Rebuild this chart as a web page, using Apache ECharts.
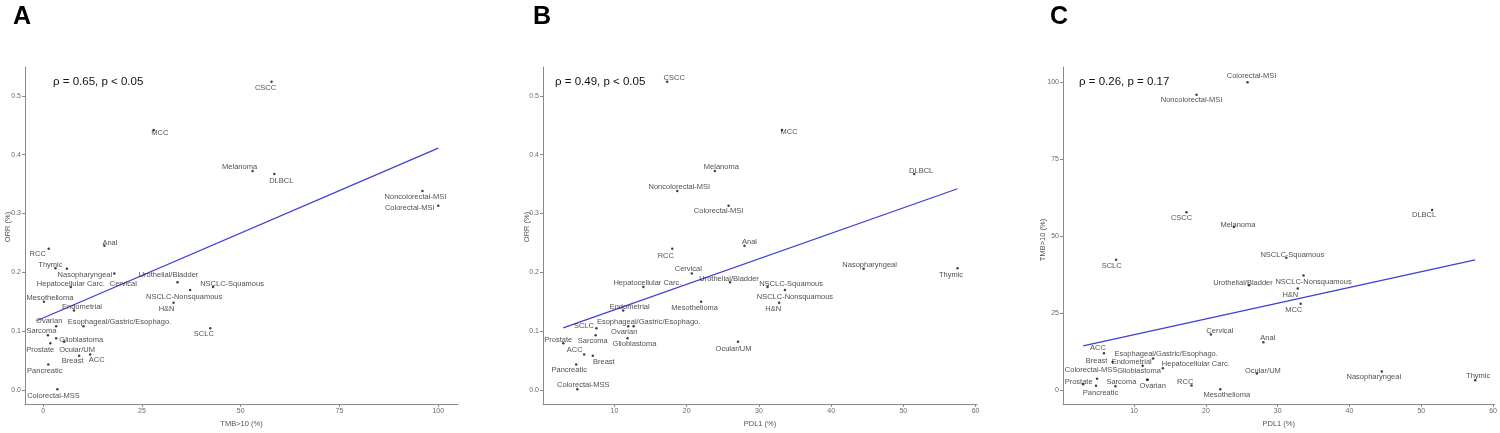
<!DOCTYPE html>
<html><head><meta charset="utf-8">
<script src="https://cdn.jsdelivr.net/npm/echarts@6/dist/echarts.min.js"></script>
<style>html,body{margin:0;padding:0;background:#fff}#c{width:1500px;height:433px}</style>
</head><body><div id="c"></div>
<script>
// ---------- data ----------
const cancers = ['CSCC','MCC','Melanoma','DLBCL','Noncolorectal-MSI','Colorectal-MSI','Anal','RCC','Thymic','Nasopharyngeal',
  'Hepatocellular Carc.','Cervical','Urothelial/Bladder','NSCLC-Squamous','NSCLC-Nonsquamous','H&N','Mesothelioma','Endometrial',
  'Ovarian','Esophageal/Gastric/Esophago.','SCLC','Sarcoma','Glioblastoma','Prostate','Ocular/UM','Breast','ACC','Pancreatic','Colorectal-MSS'];
const tmb  = [57.8, 28, 53, 58.5, 96, 100, 15.5, 1.4, 3.1, 6, 7, 18, 34, 43, 37.2, 33, 0.2, 7.8, 3.3, 10.2, 42.3, 1.2, 3.3, 1.8, 5.3, 9.1, 11.9, 1.3, 3.6];
const orr  = [0.524, 0.442, 0.372, 0.367, 0.338, 0.313, 0.245, 0.24, 0.207, 0.206, 0.175, 0.198, 0.183, 0.175, 0.17, 0.148, 0.15, 0.135, 0.108, 0.108, 0.105, 0.093, 0.088, 0.0795, 0.082, 0.058, 0.06, 0.043, 0.001];
const pdl1 = [17.3, 33.2, 23.9, 51.5, 18.7, 25.8, 28, 18, 57.5, 44.5, 14, 20.7, 26, 31.2, 33.6, 32.8, 22, 11.2, 11.9, 12.65, 7.5, 7.4, 11.8, 2.9, 27.1, 7.0, 5.8, 4.7, 4.85];
const fitA = [[-1.5, 0.118], [100, 0.411]];
const fitB = [[2.9, 0.1055], [57.5, 0.342]];
const fitC = [[2.9, 14.3], [57.5, 42.3]];
const ticksORR = [0, 0.1, 0.2, 0.3, 0.4, 0.5];
const ticksTMB = [0, 25, 50, 75, 100];
const ticksPDL1 = [10, 20, 30, 40, 50, 60];
const stats = ['ρ = 0.65, p < 0.05', 'ρ = 0.49, p < 0.05', 'ρ = 0.26, p = 0.17'];
const letters = ['A', 'B', 'C'];

// ---------- label placement (style) ----------
const offA = {'CSCC':[-6,6],'MCC':[6,3],'Melanoma':[-13,-4.5],'DLBCL':[7,7],'Noncolorectal-MSI':[-7,6],'Colorectal-MSI':[-28.5,2],
  'Anal':[5.5,-3.3],'RCC':[-11,5],'Thymic':[-5,-3.5],'Nasopharyngeal':[18,6.6],'Hepatocellular Carc.':[0,-3],'Cervical':[9,10.5],
  'Urothelial/Bladder':[-9,-7],'NSCLC-Squamous':[19,-3],'NSCLC-Nonsquamous':[-6,6.7],'H&N':[-7,6],'Mesothelioma':[6,-4],
  'Endometrial':[8,-4],'Ovarian':[-7,-5],'Esophageal/Gastric/Esophago.':[36,-4],'SCLC':[-6.5,6.3],'Sarcoma':[-6.5,-4],
  'Glioblastoma':[25,2],'Prostate':[-10,6.7],'Ocular/UM':[13,8],'Breast':[-6.5,5.5],'ACC':[6.5,5.7],'Pancreatic':[-3.5,6.5],
  'Colorectal-MSS':[-4,6.3]};
const offB = {'CSCC':[7,-4],'MCC':[7,2],'Melanoma':[6.5,-4],'DLBCL':[7,-3],'Noncolorectal-MSI':[2,-4],'Colorectal-MSI':[-10,5],
  'Anal':[5,-4],'RCC':[-6.5,7],'Thymic':[-6.5,7],'Nasopharyngeal':[6,-3.5],'Hepatocellular Carc.':[4,-4],'Cervical':[-3.5,-4],
  'Urothelial/Bladder':[-1,-3.5],'NSCLC-Squamous':[23.5,-3.5],'NSCLC-Nonsquamous':[10,6.7],'H&N':[-6,6],'Mesothelioma':[-6.5,6.7],
  'Endometrial':[6.5,-4],'Ovarian':[-4,6],'Esophageal/Gastric/Esophago.':[15,-4],'SCLC':[-12.5,-2.3],'Sarcoma':[-3,5.5],
  'Glioblastoma':[7,6],'Prostate':[-5,-3.3],'Ocular/UM':[-4.5,7],'Breast':[11,6],'ACC':[-9.5,-4.5],'Pancreatic':[-7,5.5],
  'Colorectal-MSS':[6,-4.5]};
const offC = {'CSCC':[-5,6],'MCC':[-7,6.3],'Melanoma':[4,-2],'DLBCL':[-8,5],'Noncolorectal-MSI':[-5,5],'Colorectal-MSI':[4,-6],
  'Anal':[4.5,-4.5],'RCC':[-6.3,-4],'Thymic':[3,-4],'Nasopharyngeal':[-8,5.5],'Hepatocellular Carc.':[33,-4.5],'Cervical':[9,-3.3],
  'Urothelial/Bladder':[-6,-2],'NSCLC-Squamous':[6,-2.5],'NSCLC-Nonsquamous':[10,6],'H&N':[-7.5,6.3],'Mesothelioma':[6.5,6],
  'Endometrial':[-11,-4],'Ovarian':[5,6.5],'Esophageal/Gastric/Esophago.':[13,-5],'SCLC':[-4.5,6],'Sarcoma':[6,-4.4],
  'Glioblastoma':[-8,-8.5],'Prostate':[-4.5,-2.6],'Ocular/UM':[6,-3],'Breast':[-16,-1],'ACC':[-6,-5],'Pancreatic':[4.5,7],
  'Colorectal-MSS':[-6,-8.5]};

const FONT = 'Liberation Sans, Arial, Helvetica, sans-serif';
const AXC = '#8a8a8a';

function pts(xs, ys, off) {
  return cancers.map((n, i) => ({ name: n, value: [xs[i], ys[i]], label: { offset: off[n] || [0, 0] } }));
}
function scatter(idx, data) {
  return {
    type: 'scatter', xAxisIndex: idx, yAxisIndex: idx, data: data, symbolSize: 2.5,
    itemStyle: { color: '#111' }, z: 3, silent: true,
    label: { show: true, position: 'inside', formatter: '{b}', fontSize: 7.5, color: '#1c1c1c', fontFamily: FONT }
  };
}
function fit(idx, data) {
  return { type: 'line', xAxisIndex: idx, yAxisIndex: idx, data: data, symbol: 'none', silent: true, z: 2,
    lineStyle: { color: '#3f3fd6', width: 1.3 } };
}
function axis(gridIndex, min, max, ticks, fmt, extra) {
  return Object.assign({
    type: 'value', gridIndex: gridIndex, min: min, max: max,
    splitLine: { show: false },
    axisLine: { show: true, onZero: false, lineStyle: { color: AXC, width: 1 } },
    axisTick: { show: true, length: 3, customValues: ticks, lineStyle: { color: AXC } },
    axisLabel: { show: true, customValues: ticks, fontSize: 7, color: '#6a6a6a', margin: 4, fontFamily: FONT,
      formatter: fmt || (v => String(v)) }
  }, extra || {});
}
const orrFmt = v => v.toFixed(1);
const xName = (name) => ({ name: name, nameLocation: 'middle', nameGap: 16,
  nameTextStyle: { fontSize: 7.5, color: '#555', fontFamily: FONT } });

const graphic = [];
letters.forEach((t, i) => graphic.push({ type: 'text', x: [13, 533, 1050][i], y: 17,
  style: { text: t, font: 'bold 25px ' + FONT, fill: '#000', align: 'left', verticalAlign: 'middle' } }));
stats.forEach((t, i) => graphic.push({ type: 'text', x: [53, 555, 1079][i], y: 82,
  style: { text: t, font: '11.5px ' + FONT, fill: '#111', align: 'left', verticalAlign: 'middle' } }));
[['ORR (%)', 8, 227], ['ORR (%)', 527, 227], ['TMB>10 (%)', 1043, 240]].forEach(a => graphic.push({
  type: 'text', x: a[1], y: a[2], rotation: Math.PI / 2,
  style: { text: a[0], font: '7.5px ' + FONT, fill: '#555', align: 'center', verticalAlign: 'middle' } }));

const option = {
  animation: false,
  backgroundColor: '#fff',
  grid: [
    { left: 25, top: 67, width: 433, height: 343 },
    { left: 543, top: 67, width: 434, height: 343 },
    { left: 1063, top: 67, width: 434, height: 343 }
  ],
  xAxis: [
    axis(0, -4.6, 105, ticksTMB, null, xName('TMB>10 (%)')),
    axis(1, 0.1, 60.2, ticksPDL1, null, xName('PDL1 (%)')),
    axis(2, 0.1, 60.2, ticksPDL1, null, xName('PDL1 (%)'))
  ],
  yAxis: [
    axis(0, -0.024, 0.549, ticksORR, orrFmt),
    axis(1, -0.024, 0.549, ticksORR, orrFmt),
    axis(2, -4.6, 105, ticksTMB, null)
  ],
  graphic: graphic,
  series: [
    fit(0, fitA), scatter(0, pts(tmb, orr, offA)),
    fit(1, fitB), scatter(1, pts(pdl1, orr, offB)),
    fit(2, fitC), scatter(2, pts(pdl1, tmb, offC))
  ]
};
const chart = echarts.init(document.getElementById('c'), null, { renderer: 'canvas' });
chart.setOption(option);
</script></body></html>
